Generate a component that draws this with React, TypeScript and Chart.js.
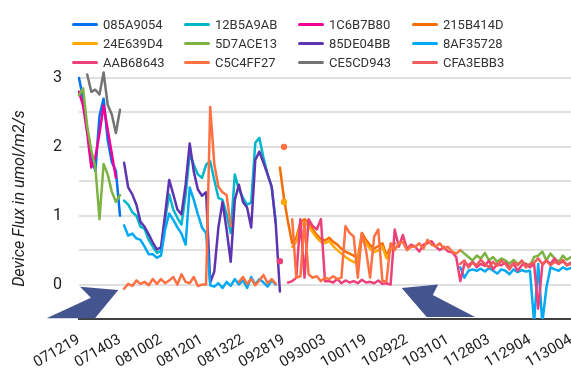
import React, { useEffect, useRef } from "react";
import { Chart, registerables } from "chart.js";

Chart.register(...registerables);

// ---------- data ----------
const xTickLabels = [
  "071219", "071403", "081002", "081201", "081322", "092819", "093003",
  "100119", "102922", "103101", "112803", "112904", "113004",
];
const STEPS_PER_LABEL = 10;
const categories = Array.from(
  { length: (xTickLabels.length - 1) * STEPS_PER_LABEL + 1 },
  (_, i) => (i % STEPS_PER_LABEL === 0 ? xTickLabels[i / STEPS_PER_LABEL] : "")
);

const seriesNames = [
  "085A9054", "12B5A9AB", "1C6B7B80", "215B414D",
  "24E639D4", "5D7ACE13", "85DE04BB", "8AF35728",
  "AAB68643", "C5C4FF27", "CE5CD943", "CFA3EBB3",
];
const seriesColors = [
  "#0072f0", "#00b6cb", "#f10096", "#f66d00",
  "#ffa800", "#7cb342", "#5e35b1", "#03a9f4",
  "#ec407a", "#ff7043", "#737373", "#f15b5b",
];

// segments: [first category index, values...]
const s085A9054: [number, number[]][] = [
  [0, [3.0, 2.7, 2.25, 1.85, 1.65, 2.45, 2.7, 2.1, 1.78, 1.65, 1.0]],
];
const s12B5A9AB: [number, number[]][] = [
  [11, [1.22, 1.16, 1.05, 1.0, 0.84, 0.81, 0.65, 0.55, 0.46, 0.49,
        0.94, 1.31, 1.09, 0.97, 0.87, 1.3, 1.9, 1.74, 1.6, 1.55,
        1.74, 1.79, 1.52, 1.26, 1.23, 1.02, 0.75, 1.6, 1.38, 1.26,
        1.16, 1.19, 2.06, 2.13, 1.84, 1.6, 1.42, 0.9]],
];
const s1C6B7B80: [number, number[]][] = [
  [0, [2.8, 2.6, 2.2, 1.7, 1.85, 2.2, 2.6, 2.25, 1.9, 1.55]],
];
const s215B414D: [number, number[]][] = [
  [49, [1.7, 1.25, 0.9, 0.6, 0.68, 0.9, 0.95, 0.9, 0.8, 0.72,
        0.66, 0.64, 0.68, 0.62, 0.58, 0.52, 0.48, 0.45, 0.42, 0.38,
        0.75, 0.65, 0.57, 0.52, 0.56, 0.6, 0.42, 0.55, 0.6]],
];
const s24E639D4: [number, number[]][] = [
  [50, [1.2]],
  [52, [0.55, 0.62, 0.85, 0.9, 0.85, 0.76, 0.68, 0.62, 0.6, 0.63,
        0.56, 0.5, 0.45, 0.4, 0.36, 0.33, 0.3, 0.7, 0.6, 0.52,
        0.47, 0.5, 0.55, 0.38, 0.5, 0.55]],
];
const s5D7ACE13: [number, number[]][] = [
  [0, [2.75, 2.85, 2.3, 1.95, 1.7, 0.95, 1.75, 1.6, 1.35, 1.2, 1.3]],
  [93, [0.5, 0.45, 0.4, 0.35, 0.42, 0.38, 0.46, 0.35, 0.4, 0.33,
        0.38, 0.35, 0.3, 0.36, 0.3, 0.33, 0.3, 0.27, 0.4, 0.42,
        0.48, 0.35, 0.45, 0.38, 0.33, 0.42, 0.36, 0.4]],
];
const s85DE04BB: [number, number[]][] = [
  [11, [1.77, 1.41, 1.31, 1.16, 0.91, 0.84, 0.73, 0.61, 0.51, 0.54,
        1.02, 1.52, 1.31, 1.09, 1.02, 1.45, 2.05, 1.64, 1.38, 1.29,
        1.34, 0.03, 0.19, 0.83, 1.2, 0.8, 0.33, 1.23, 1.45, 1.2,
        1.12, 0.83, 1.81, 1.93, 1.77, 1.6, 1.42, 0.87, -0.1]],
];
const s8AF35728: [number, number[]][] = [
  [11, [0.86, 0.71, 0.74, 0.67, 0.65, 0.55, 0.44, 0.44, 0.39, 0.42,
        0.8, 1.03, 0.94, 0.83, 0.74, 0.58, 1.41, 1.23, 1.02, 0.83,
        0.75, -0.01, -0.03, 0.02, -0.05, 0.04, -0.02, 0.08, 0.0, 0.06,
        -0.05, 0.11, 0.0, 0.08, 0.03, -0.03, 0.06, 0.0]],
  [93, [0.25, 0.1, 0.2, 0.22, 0.2, 0.23, 0.19, 0.24, 0.2, 0.16,
        0.22, 0.2, 0.15, 0.22, 0.18, 0.21, 0.19, 0.2, -0.55, 0.3,
        -0.55, -0.05, 0.25, 0.22, 0.2, 0.25, 0.22, 0.24]],
];
const sAAB68643: [number, number[]][] = [
  [49, [0.34]],
  [51, [0.03, 0.05, 0.1, 0.95, 0.1, 0.95, 0.85, 0.8, 0.95, 0.05,
        0.05, 0.03, 0.08, 0.02, 0.06, 0.03, 0.05, 0.02, 0.07, 0.03,
        0.04, 0.02, 0.06, 0.01, 0.02, 0.0, 0.8, 0.55, 0.72, 0.52,
        0.58, 0.55, 0.48, 0.58, 0.6, 0.63, 0.55, 0.5, 0.55, 0.48,
        0.47, 0.4, 0.05, 0.3, 0.28, 0.33, 0.25, 0.3, 0.27, 0.35,
        0.22, 0.3, 0.28, 0.32, 0.25, 0.3, 0.2, 0.28, 0.3, 0.25,
        0.3, -0.35, 0.28, 0.35, 0.3, 0.38, 0.3, 0.34, 0.28, 0.32]],
];
const sC5C4FF27: [number, number[]][] = [
  [11, [-0.06, 0.01, -0.02, 0.06, 0.01, 0.04, -0.01, 0.08, 0.01, 0.08,
        0.02, 0.06, 0.11, 0.0, 0.15, 0.04, 0.02, 0.11, -0.02, 0.0,
        0.0, 2.58, 1.75, 1.42, 1.34, 1.3, 0.85]],
  [39, [0.04, 0.11, 0.01, 0.08, -0.01, 0.06, 0.14, 0.02, 0.08, 0.01]],
  [50, [2.0]],
  [52, [0.95, 0.1, 0.12, 0.9, 0.15, 0.1, 0.12, 0.05, 0.1, 0.08,
        0.12, 0.08, 0.1, 0.85, 0.75, 0.7, 0.1, 0.75, 0.5, 0.1,
        0.7, 0.8, 0.05, 0.05, 0.6, 0.5, 0.6, 0.62, 0.5, 0.55,
        0.55, 0.6, 0.52, 0.65, 0.58, 0.55, 0.6, 0.52, 0.55, 0.48,
        0.45, 0.5]],
];
const sCE5CD943: [number, number[]][] = [
  [2, [3.05, 2.8, 2.83, 2.76, 3.08, 2.61, 2.47, 2.2, 2.54]],
];
const sCFA3EBB3: [number, number[]][] = [
  [93, [0.3, 0.35, 0.25, 0.32, 0.28, 0.36, 0.3, 0.25, 0.33, 0.27,
        0.35, 0.3, 0.22, 0.32, 0.28, 0.35, 0.25, 0.3, 0.32, 0.38,
        0.3, 0.35, 0.28, 0.33, 0.3, 0.36, 0.28, 0.3]],
];

const seriesSegments = [
  s085A9054, s12B5A9AB, s1C6B7B80, s215B414D, s24E639D4, s5D7ACE13,
  s85DE04BB, s8AF35728, sAAB68643, sC5C4FF27, sCE5CD943, sCFA3EBB3,
];

const yTitle = "Device Flux in umol/m2/s";

// annotation arrows in data coordinates [category index, value]
const arrowLeft = [[9.6, -0.08], [0.25, -0.03], [2.9, -0.19], [-7.9, -0.49], [3.9, -0.49]];
const arrowRight = [[78.7, -0.05], [87.6, 0.0], [86.3, -0.15], [96.6, -0.47], [84.8, -0.47]];
const ARROW_COLOR = "#44548f";

// ---------- helpers ----------
function expand(segs: [number, number[]][]): (number | null)[] {
  const arr: (number | null)[] = Array(categories.length).fill(null);
  for (const [start, vals] of segs) vals.forEach((v, i) => (arr[start + i] = v));
  return arr;
}

const arrowPlugin = {
  id: "arrows",
  afterDraw(chart: any) {
    const { ctx, scales } = chart;
    const x = scales.x;
    const y = scales.y;
    ctx.save();
    ctx.fillStyle = ARROW_COLOR;
    for (const shape of [arrowLeft, arrowRight]) {
      ctx.beginPath();
      shape.forEach(([xi, yv], k) => {
        const px = x.getPixelForValue(xi);
        const py = y.getPixelForValue(yv);
        if (k === 0) ctx.moveTo(px, py);
        else ctx.lineTo(px, py);
      });
      ctx.closePath();
      ctx.fill();
    }
    ctx.restore();
  },
};

const legendCols = [72, 184, 298, 412];
const legendRows = [24, 43, 62];

export default function App() {
  const canvasRef = useRef<HTMLCanvasElement | null>(null);

  useEffect(() => {
    if (!canvasRef.current) return;
    const datasets = seriesNames.map((name, i) => ({
      label: name,
      data: expand(seriesSegments[i]),
      borderColor: seriesColors[i],
      backgroundColor: seriesColors[i],
      borderWidth: 2.5,
      borderJoinStyle: "round" as const,
      borderCapStyle: "round" as const,
      tension: 0,
      spanGaps: false,
      fill: false,
      order: seriesNames.length - i,
      clip: { left: 2, top: 8, right: 2, bottom: 0 },
      pointBorderWidth: 0,
      pointRadius: (c: any) => {
        const d = c.dataset.data;
        const k = c.dataIndex;
        return d[k] != null && d[k - 1] == null && d[k + 1] == null ? 3.2 : 0;
      },
      pointHoverRadius: 0,
    }));

    const chart = new Chart(canvasRef.current, {
      type: "line",
      data: { labels: categories, datasets },
      options: {
        animation: false,
        responsive: false,
        devicePixelRatio: 1,
        layout: { padding: { top: 78, left: 0, right: 0, bottom: 0 } },
        plugins: {
          legend: { display: false },
          tooltip: { enabled: false },
        },
        scales: {
          x: {
            type: "category",
            grid: { display: false },
            border: { display: true, color: "#404040", width: 2 },
            ticks: {
              autoSkip: false,
              minRotation: 30,
              maxRotation: 30,
              padding: 4,
              color: "#222",
              font: { family: "Roboto", size: 15 },
            },
            afterFit: (s: any) => {
              s.height = 51;
              s.paddingLeft = 0;
              s.paddingRight = 0;
            },
          },
          y: {
            min: -0.5,
            max: 3,
            grid: {
              drawTicks: false,
              lineWidth: 2,
              color: (c: any) => (c.tick && c.tick.value === -0.5 ? "rgba(0,0,0,0)" : "#e0e0e0"),
            },
            border: { display: false },
            ticks: {
              stepSize: 0.5,
              padding: 17,
              color: "#222",
              font: { family: "Roboto", size: 16 },
              callback: (v: any) => (Number.isInteger(v) ? String(v) : ""),
            },
            title: {
              display: true,
              text: yTitle,
              color: "#222",
              font: { family: "Roboto", size: 16, style: "italic" },
              padding: { top: 10, bottom: 0 },
            },
            afterFit: (s: any) => {
              s.width = 79;
            },
          },
        },
      },
      plugins: [arrowPlugin],
    });
    return () => chart.destroy();
  }, []);

  return (
    <div
      style={{
        position: "fixed",
        left: 0,
        top: 0,
        width: 571,
        height: 370,
        overflow: "hidden",
        background: "#fff",
      }}
    >
      <canvas ref={canvasRef} width={571} height={370} style={{ display: "block" }} />
      {seriesNames.map((name, i) => {
        const col = i % 4;
        const row = Math.floor(i / 4);
        return (
          <div
            key={name}
            style={{
              position: "absolute",
              left: legendCols[col],
              top: legendRows[row] - 10,
              height: 20,
              display: "flex",
              alignItems: "center",
              fontFamily: "Roboto",
              fontSize: 13,
              color: "#333",
              whiteSpace: "nowrap",
            }}
          >
            <span
              style={{
                display: "inline-block",
                width: 26,
                height: 3,
                borderRadius: 1.5,
                background: seriesColors[i],
                marginRight: 5,
              }}
            />
            <span>{name}</span>
          </div>
        );
      })}
    </div>
  );
}
